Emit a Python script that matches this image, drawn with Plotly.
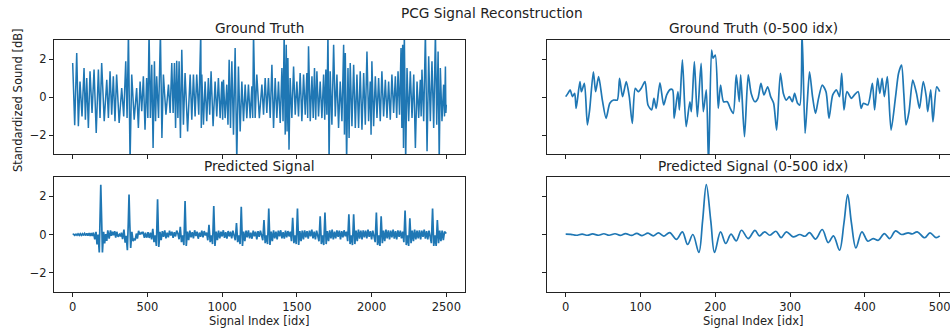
import numpy as np
import plotly.graph_objects as go

# ---------------- data ----------------
# Ground truth, zoomed panel (0-500 idx)
gt_zoom_idx = [0,3,6,9,12,14,19,21,25,29,32,37,40,44,49,54,59,64,69,72,76,81,85,89,93,97,101,106,110,115,
               118,121,126,131,135,140,143,145,150,152,156,161,166,168,172,176,181,184,188,191,195,197,200,204,207,211,216,220,224,228,
               232,234,239,244,248,253,257,261,265,270,274,278,282,287,291,295,299,303,306,310,313,316,320,323,326,330,334,338,343,348,
               352,357,362,366,369,372,376,382,386,391,395,398,404,410,413,417,420,423,426,430,435,441,445,449,452,455,459,464,469,473,
               478,482,484,488,491,496,500]
gt_zoom_val = [0.02,0.19,0.37,0.02,0.19,-0.60,0.81,0.28,0.72,-1.47,-0.68,1.33,0.28,1.07,-0.16,-1.12,-0.33,-0.16,-0.16,0.98,
               0.02,0.81,0.02,-1.39,0.46,0.28,0.46,0.81,-0.42,-0.68,-0.07,-0.60,0.75,-0.42,0.11,0.40,0.37,-1.12,0.28,-0.68,
               1.95,-1.56,-0.25,-0.77,1.86,-1.04,1.77,-0.77,0.37,-3.6,2.47,2.04,2.21,-0.60,0.63,-0.25,-0.25,-0.60,-0.86,1.16,
               -0.25,1.16,-2.09,1.16,0.19,-0.25,-0.07,0.72,0.11,0.54,0.02,-0.33,-1.74,1.25,0.19,-0.16,0.02,-0.25,0.19,-0.33,
               -0.42,3.4,-1.91,-0.25,1.33,0.02,-0.86,-0.07,0.63,0.28,-1.12,0.11,0.37,0.02,1.25,-0.68,0.28,-0.07,0.11,0.28,
               -0.60,-0.33,-0.42,0.72,-0.68,0.98,0.19,0.98,0.02,1.07,-1.74,0.02,1.25,1.68,0.19,-1.47,-0.77,0.89,0.19,-0.60,
               0.81,0.02,-0.77,0.37,-1.30,0.54,0.28]

# Predicted signal, zoomed panel (0-500 idx): extremes of the oscillation
pred_zoom_idx = [0,7,14,22,29,36,44,51,58,66,73,80,88,95,102,110,117,124,131,139,148,156,163,170,178,183,188,194,199,207,
                 214,221,228,235,244,253,259,266,273,281,288,295,304,313,320,326,334,343,351,358,366,372,377,382,388,396,404,411,418,426,
                 433,441,449,458,463,470,480,487,495,500]
pred_zoom_val = [0.02,0.01,-0.04,0.02,-0.04,0.03,-0.04,0.04,-0.04,0.04,-0.05,0.05,-0.05,0.06,-0.06,0.07,-0.07,0.08,-0.08,0.10,
                 -0.25,0.14,-0.52,0.00,-0.94,0.70,2.60,0.70,-0.94,0.14,-0.47,0.02,-0.33,0.22,-0.21,0.22,-0.07,0.14,-0.04,0.17,
                 -0.16,0.14,-0.12,0.00,-0.09,0.10,-0.24,0.26,-0.42,-0.07,-0.82,0.60,2.08,0.60,-0.70,0.14,-0.35,-0.21,-0.30,0.05,
                 -0.21,0.19,0.00,0.09,0.03,0.14,-0.17,0.09,-0.16,-0.07]

# Predicted signal, rest of the full panel (idx 504 .. 2496, every 8 idx)
pred_tail_start = 504
pred_tail_step = 8
pred_tail_val = [
    0.12,-0.18,0.10,
    -0.25,0.30,-0.40,-0.05,-0.60,1.84,-0.65,0.14,-0.30,
    0.18,-0.12,0.22,-0.20,0.10,-0.15,0.20,-0.05,0.15,-0.18,0.12,-0.10,0.20,0.05,
    -0.25,0.40,-0.40,-0.05,-0.55,1.75,-0.60,0.15,-0.30,
    0.20,-0.15,0.12,-0.20,0.22,-0.08,0.15,-0.22,0.10,-0.12,0.20,-0.15,0.18,-0.05,0.10,
    -0.30,0.50,-0.40,-0.05,-0.50,1.49,-0.60,0.15,-0.30,
    0.20,-0.20,0.15,-0.10,0.22,-0.18,0.12,-0.22,0.18,-0.10,0.15,-0.20,0.20,0.00,
    -0.30,0.60,-0.40,-0.05,-0.50,1.44,-0.60,0.15,-0.35,
    0.20,-0.15,0.22,-0.20,0.10,-0.22,0.20,-0.10,0.15,-0.25,0.18,-0.12,0.20,-0.05,
    -0.30,0.75,-0.45,-0.05,-0.50,1.35,-0.55,0.15,-0.35,
    0.22,-0.20,0.15,-0.25,0.20,-0.10,0.22,-0.20,0.12,-0.22,0.20,-0.15,0.18,-0.10,0.15,
    -0.35,0.87,-0.45,-0.05,-0.50,1.35,-0.55,0.18,-0.35,
    0.20,-0.25,0.22,-0.15,0.18,-0.22,0.20,-0.10,0.25,-0.20,0.15,-0.25,0.20,-0.05,
    -0.35,0.95,-0.50,-0.05,-0.55,1.15,-0.50,0.18,-0.35,
    0.22,-0.20,0.25,-0.25,0.15,-0.20,0.22,-0.12,0.20,-0.25,0.18,-0.15,0.22,-0.10,0.15,
    -0.35,1.05,-0.50,-0.05,-0.55,1.05,-0.50,0.20,-0.35,
    0.25,-0.22,0.20,-0.25,0.22,-0.15,0.20,-0.20,0.25,-0.12,0.18,-0.25,0.20,-0.05,
    -0.40,1.15,-0.55,-0.05,-0.60,0.95,-0.45,0.20,-0.35,
    0.25,-0.20,0.22,-0.25,0.20,-0.15,0.25,-0.22,0.18,-0.25,0.22,-0.12,0.20,-0.20,0.15,
    -0.40,1.25,-0.55,-0.05,-0.60,0.85,-0.45,0.20,-0.35,
    0.25,-0.25,0.20,-0.20,0.22,-0.25,0.20,-0.12,0.25,-0.22,0.18,-0.25,0.20,-0.05,
    -0.45,1.35,-0.60,-0.05,-0.60,0.75,-0.45,0.20,-0.35,
    0.20,-0.30,0.15,0.05,
]

# Ground truth, full panel: upper / lower excursion read per narrow column
gt_col_idx = [0,27,49,76,94,116,143,172,194,228,250,272,294,328,355,373,395,428,451,473,
              495,511,529,547,562,587,607,641,663,681,696,712,730,752,786,808,830,857,864,886,
              908,926,953,975,998,1009,1031,1047,1065,1087,1109,1132,1154,1176,1199,1210,1232,1266,1288,1310,
              1333,1355,1377,1400,1415,1429,1440,1455,1478,1500,1522,1545,1567,1578,1601,1618,1634,1656,1679,1694,
              1708,1723,1746,1768,1790,1813,1824,1842,1857,1880,1902,1924,1947,1969,1991,2002,2025,2047,2069,2092,
              2114,2136,2159,2177,2197,2208,2219,2237,2259,2282,2304,2326,2337,2360,2382,2404,2427,2445,2460,2482,
              2494,2500]
gt_col_hi = [1.79,2.32,0.82,1.53,1.00,1.35,1.44,1.44,1.79,0.91,1.35,1.09,1.18,0.47,1.88,3.4,1.18,0.47,0.82,1.09,
             1.00,3.4,1.70,1.88,1.09,3.4,1.18,0.65,1.79,1.79,1.91,1.88,2.49,1.26,1.18,1.18,1.18,3.4,1.18,0.82,
             1.00,1.35,0.82,1.00,0.82,0.91,0.65,1.96,1.88,2.58,1.61,0.82,0.65,0.65,0.56,3.4,1.18,0.65,1.00,1.00,
             1.70,1.00,0.82,1.53,3.4,2.75,2.05,1.00,1.61,0.82,1.26,1.18,1.26,2.67,1.09,1.53,1.35,0.82,1.18,1.44,
             3.4,1.35,2.75,1.18,0.82,2.75,2.32,1.53,1.79,1.70,1.18,1.35,1.26,2.40,0.82,1.88,1.09,1.00,1.35,0.91,
             0.82,1.18,1.09,1.35,2.58,2.75,3.4,1.53,1.35,1.18,0.82,0.91,1.44,3.4,2.14,1.88,3.4,2.40,1.53,0.65,
             1.61,-0.30]
gt_col_lo = [-1.49,-1.54,-1.02,-1.19,-1.63,-0.84,-1.89,-1.11,-1.28,-1.11,-0.93,-1.28,-1.37,-1.02,-1.11,-3.4,-1.19,-1.63,-0.75,-1.72,
             -1.11,-1.11,-2.68,-1.28,-1.11,-2.16,-0.93,-0.84,-0.84,-1.63,-1.11,-2.16,-1.46,-1.81,-1.19,-1.02,-0.93,-1.63,-1.46,-1.28,
             -0.93,-1.54,-1.02,-1.11,-1.19,-1.11,-1.46,-1.63,-1.98,-3.4,-1.81,-1.28,-1.11,-1.11,-1.11,-1.11,-1.11,-0.93,-0.84,-1.11,
             -1.63,-1.11,-1.37,-1.28,-1.98,-1.81,-2.77,-1.11,-0.93,-1.02,-1.28,-0.93,-1.11,-1.28,-1.11,-1.19,-1.02,-1.11,-1.19,-0.93,
             -3.4,-1.46,-1.02,-1.63,-1.28,-1.98,-3.4,-2.16,-1.54,-1.63,-1.63,-1.72,-1.46,-1.28,-1.98,-1.54,-1.11,-1.28,-1.02,-1.11,
             -1.19,-0.84,-1.11,-0.93,-1.63,-2.68,-3.4,-1.28,-1.11,-2.68,-1.11,-1.02,-1.28,-2.86,-1.28,-1.63,-1.46,-3.4,-1.28,-1.02,
             -0.84,-0.40]

x_ticks_full = [0, 500, 1000, 1500, 2000, 2500]
x_ticks_zoom = [0, 100, 200, 300, 400, 500]
y_ticks = [-2, 0, 2]

# ---------------- build series ----------------
gt_full_x, gt_full_y = [], []
for k, i in enumerate(gt_col_idx):
    nxt = gt_col_idx[k + 1] if k + 1 < len(gt_col_idx) else i
    gt_full_x += [i, (i + nxt) / 2]
    gt_full_y += [gt_col_hi[k], gt_col_lo[k]]

pred_tail_idx = pred_tail_start + pred_tail_step * np.arange(len(pred_tail_val))
pred_full_x = list(pred_zoom_idx) + list(pred_tail_idx) + [2500]
pred_full_y = list(pred_zoom_val) + list(pred_tail_val) + [pred_tail_val[-1]]

# ---------------- figure ----------------
W, H = 950, 330
BLUE = '#1f77b4'
FONT = 'DejaVu Sans'

def px_x(p):
    return p / W

def px_y(p):
    return 1 - p / H

fig = go.Figure()
line = dict(color=BLUE, width=1.7)
fig.add_trace(go.Scatter(x=gt_full_x, y=gt_full_y, mode='lines', line=dict(color=BLUE, width=1.5),
                         xaxis='x', yaxis='y'))
fig.add_trace(go.Scatter(x=gt_zoom_idx, y=gt_zoom_val, mode='lines',
                         line=dict(color=BLUE, width=1.7, shape='spline', smoothing=0.7),
                         xaxis='x2', yaxis='y2'))
fig.add_trace(go.Scatter(x=pred_full_x, y=pred_full_y, mode='lines', line=line, xaxis='x3', yaxis='y3'))
fig.add_trace(go.Scatter(x=pred_zoom_idx, y=pred_zoom_val, mode='lines',
                         line=dict(color=BLUE, width=1.7, shape='spline', smoothing=1.0),
                         xaxis='x4', yaxis='y4'))

tickfont = dict(family=FONT, size=11.5, color='#222')
base = dict(showline=True, linecolor='#222', linewidth=1, ticks='outside', ticklen=4,
            tickcolor='#222', tickwidth=1, showgrid=False, zeroline=False, tickfont=tickfont,
            ticklabeloverflow='allow')

Ldom = [px_x(54), px_x(465)]
Rdom = [px_x(547), 1.0]
Tdom = [px_y(154), px_y(40)]
Bdom = [px_y(292), px_y(177)]
full_range = [-125, 2625]
zoom_range = [-25, -25 + (950 - 547) / 0.748]

fig.update_layout(
    width=W, height=H, margin=dict(l=0, r=0, t=0, b=0),
    paper_bgcolor='white', plot_bgcolor='white', showlegend=False,
    font=dict(family=FONT, color='#222'),
    xaxis=dict(base, domain=Ldom, range=full_range, tickvals=x_ticks_full, showticklabels=False, mirror=True, anchor='y'),
    yaxis=dict(base, domain=Tdom, range=[-3, 3], tickvals=y_ticks, mirror=True, anchor='x'),
    xaxis2=dict(base, domain=Rdom, range=zoom_range, tickvals=x_ticks_zoom, showticklabels=False, mirror=True, anchor='y2'),
    yaxis2=dict(base, domain=Tdom, range=[-3, 3], tickvals=y_ticks, showticklabels=False, anchor='x2'),
    xaxis3=dict(base, domain=Ldom, range=full_range, tickvals=x_ticks_full, mirror=True, anchor='y3'),
    yaxis3=dict(base, domain=Bdom, range=[-3, 3], tickvals=y_ticks, mirror=True, anchor='x3'),
    xaxis4=dict(base, domain=Rdom, range=zoom_range, tickvals=x_ticks_zoom, mirror=True, anchor='y4'),
    yaxis4=dict(base, domain=Bdom, range=[-3, 3], tickvals=y_ticks, showticklabels=False, anchor='x4'),
)

def text(t, x, y, size, angle=0):
    fig.add_annotation(text=t, x=x, y=y, xref='paper', yref='paper', showarrow=False,
                       xanchor='center', yanchor='middle', textangle=angle,
                       font=dict(family=FONT, size=size, color='#222'))

text('PCG Signal Reconstruction', px_x(492), px_y(13), 13.7)
text('Ground Truth', px_x(259.5), px_y(28), 13.7)
text('Ground Truth (0-500 idx)', px_x(753), px_y(28), 13.7)
text('Predicted Signal', px_x(259.5), px_y(166), 13.7)
text('Predicted Signal (0-500 idx)', px_x(753), px_y(166), 13.7)
text('Signal Index [idx]', px_x(259.5), px_y(321), 11.5)
text('Signal Index [idx]', px_x(753), px_y(321), 11.5)
text('Standardized Sound [dB]', px_x(18), px_y(100), 11.5, angle=-90)

fig.write_html('out.html')
